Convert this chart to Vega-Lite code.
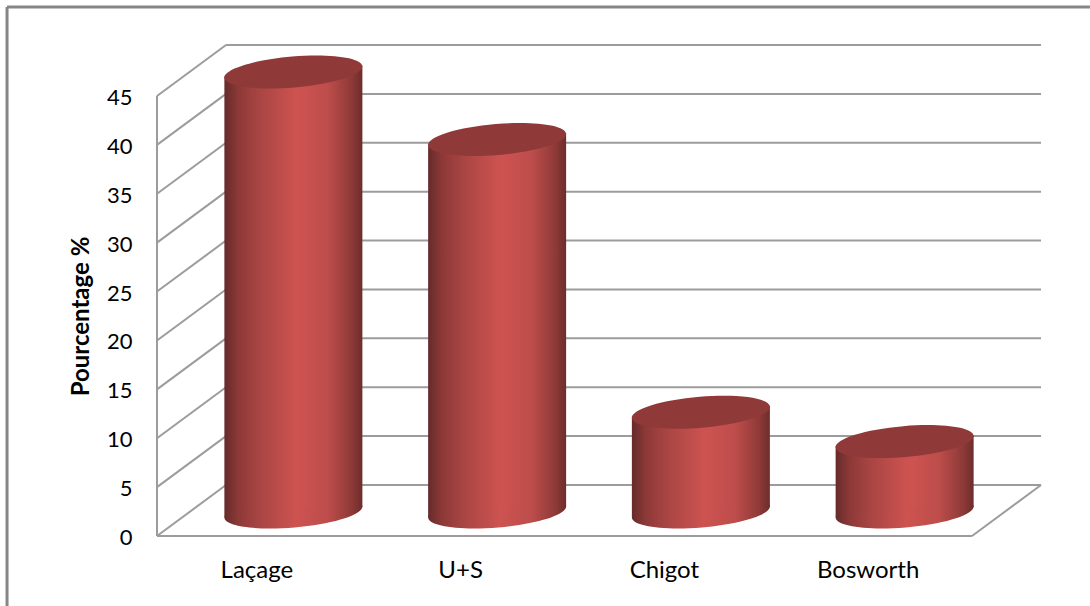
{
  "$schema": "https://vega.github.io/schema/vega-lite/v6.json",
  "width": 1090,
  "height": 606,
  "padding": 0,
  "autosize": {"type": "none"},
  "background": "white",
  "view": {"stroke": null},
  "datasets": {
    "shares": [
      {"methode": "Laçage", "pourcentage": 45.0},
      {"methode": "U+S", "pourcentage": 38.1},
      {"methode": "Chigot", "pourcentage": 10.2},
      {"methode": "Bosworth", "pourcentage": 7.2}
    ],
    "frame": [
      {"x0": -0.736, "x1": -0.736, "y0": 54.1, "y1": -7.16},
      {"x0": -0.736, "x1": 4.579, "y0": 54.1, "y1": 54.1}
    ],
    "walls": [
      {"x0": 0, "x1": 0, "y0": 0, "y1": 45},
      {"x0": 0, "x1": 4, "y0": 0, "y1": 0},
      {"x0": 4, "x1": 4.3387, "y0": 0, "y1": 5.216},
      {"x0": 0, "x1": 0.3387, "y0": 0, "y1": 5.216},
      {"x0": 0, "x1": 0.3387, "y0": 5, "y1": 10.216},
      {"x0": 0, "x1": 0.3387, "y0": 10, "y1": 15.216},
      {"x0": 0, "x1": 0.3387, "y0": 15, "y1": 20.216},
      {"x0": 0, "x1": 0.3387, "y0": 20, "y1": 25.216},
      {"x0": 0, "x1": 0.3387, "y0": 25, "y1": 30.216},
      {"x0": 0, "x1": 0.3387, "y0": 30, "y1": 35.216},
      {"x0": 0, "x1": 0.3387, "y0": 35, "y1": 40.216},
      {"x0": 0, "x1": 0.3387, "y0": 40, "y1": 45.216},
      {"x0": 0, "x1": 0.3387, "y0": 45, "y1": 50.216},
      {"x0": 0.3387, "x1": 4.3387, "y0": 5.216, "y1": 5.216},
      {"x0": 0.3387, "x1": 4.3387, "y0": 10.216, "y1": 10.216},
      {"x0": 0.3387, "x1": 4.3387, "y0": 15.216, "y1": 15.216},
      {"x0": 0.3387, "x1": 4.3387, "y0": 20.216, "y1": 20.216},
      {"x0": 0.3387, "x1": 4.3387, "y0": 25.216, "y1": 25.216},
      {"x0": 0.3387, "x1": 4.3387, "y0": 30.216, "y1": 30.216},
      {"x0": 0.3387, "x1": 4.3387, "y0": 35.216, "y1": 35.216},
      {"x0": 0.3387, "x1": 4.3387, "y0": 40.216, "y1": 40.216},
      {"x0": 0.3387, "x1": 4.3387, "y0": 45.216, "y1": 45.216},
      {"x0": 0.3387, "x1": 4.3387, "y0": 50.216, "y1": 50.216}
    ]
  },
  "resolve": {"scale": {"x": "independent"}, "axis": {"y": "independent"}},
  "layer": [
    {
      "description": "Outer chart border, left and top edges",
      "data": {"name": "frame"},
      "mark": {"type": "rule", "stroke": "#868686", "strokeWidth": 3},
      "encoding": {
        "x": {"field": "x0", "type": "quantitative", "axis": null, "scale": {"domain": [0, 4], "range": [157, 972], "nice": false, "zero": false}},
        "x2": {"field": "x1"},
        "y": {
          "field": "y0", "type": "quantitative",
          "scale": {"domain": [0, 45], "range": [536, 96], "nice": false, "zero": false},
          "axis": {
            "orient": "left", "offset": -157, "values": [0, 5, 10, 15, 20, 25, 30, 35, 40, 45],
            "grid": false, "domain": false, "ticks": false, "labelPadding": 25, "labelOffset": 1.5,
            "labelFont": "Lato", "labelFontSize": 22, "labelColor": "#000000",
            "title": "Pourcentage %", "titleFont": "Lato", "titleFontSize": 24, "titleFontWeight": "bold",
            "titleColor": "#000000", "titleX": -76, "titleY": 316, "titleAngle": -90,
            "titleAlign": "center", "titleBaseline": "middle"
          }
        },
        "y2": {"field": "y1"}
      }
    },
    {
      "description": "Walls and floor of the oblique box: gridlines, depth lines, axis edges",
      "data": {"name": "walls"},
      "mark": {"type": "rule", "stroke": "#9c9c9c", "strokeWidth": 2},
      "encoding": {
        "x": {"field": "x0", "type": "quantitative", "axis": null, "scale": {"domain": [0, 4], "range": [157, 972], "nice": false, "zero": false}},
        "x2": {"field": "x1"},
        "y": {"field": "y0", "type": "quantitative", "axis": null},
        "y2": {"field": "y1"}
      }
    },
    {
      "description": "Cylinder foot, a tilted ellipse",
      "data": {"name": "shares"},
      "mark": {
        "type": "point", "filled": true, "opacity": 1, "size": 19044, "xOffset": 34.5, "yOffset": -24,
        "shape": "M-0.9998,0.084 A1.0033,0.2245,-4.8,0,0,0.9998,-0.084 A1.0033,0.2245,-4.8,0,0,-0.9998,0.084 Z",
        "fill": {
          "x1": 0, "y1": 0, "x2": 1, "y2": 0, "gradient": "linear",
          "stops": [
            {"offset": 0, "color": "#652b2a"},
            {"offset": 0.1, "color": "#8d3937"},
            {"offset": 0.25, "color": "#a84543"},
            {"offset": 0.52, "color": "#cd5350"},
            {"offset": 0.75, "color": "#bd4d4b"},
            {"offset": 0.92, "color": "#8f3a38"},
            {"offset": 1, "color": "#6c2d2b"}
          ]
        }
      },
      "encoding": {
        "x": {
          "field": "methode", "type": "nominal", "sort": null,
          "scale": {"type": "band", "range": [157, 972], "padding": 0},
          "axis": {
            "orient": "bottom", "offset": -70, "title": null, "domain": false, "ticks": false, "grid": false,
            "labelAngle": 0, "labelPadding": 22, "labelOffset": -2, "labelFont": "Lato", "labelFontSize": 24, "labelColor": "#000000"
          }
        },
        "y": {"datum": 0, "type": "quantitative", "axis": null}
      }
    },
    {
      "description": "Cylinder side, right half, slightly higher to follow the tilt",
      "data": {"name": "shares"},
      "mark": {
        "type": "bar", "width": 69, "xOffset": 69, "yOffset": -30.5, "y2Offset": -29,
        "fill": {
          "x1": 0, "y1": 0, "x2": 1, "y2": 0, "gradient": "linear",
          "stops": [
            {"offset": 0, "color": "#cb524f"},
            {"offset": 0.08, "color": "#cd5350"},
            {"offset": 0.5, "color": "#bd4d4b"},
            {"offset": 0.84, "color": "#8f3a38"},
            {"offset": 1, "color": "#6c2d2b"}
          ]
        }
      },
      "encoding": {
        "x": {"field": "methode", "type": "nominal", "sort": null, "axis": null, "scale": {"type": "band", "range": [157, 972], "padding": 0}},
        "y": {"field": "pourcentage", "type": "quantitative", "axis": null},
        "y2": {"datum": 0}
      }
    },
    {
      "description": "Cylinder side, left half, slightly lower to follow the tilt; one pixel wider so no seam shows",
      "data": {"name": "shares"},
      "mark": {
        "type": "bar", "width": 70, "xOffset": 0.5, "yOffset": -19.5, "y2Offset": -19,
        "fill": {
          "x1": 0, "y1": 0, "x2": 1, "y2": 0, "gradient": "linear",
          "stops": [
            {"offset": 0, "color": "#652b2a"},
            {"offset": 0.2, "color": "#8d3937"},
            {"offset": 0.5, "color": "#a84543"},
            {"offset": 1, "color": "#cb524f"}
          ]
        }
      },
      "encoding": {
        "x": {"field": "methode", "type": "nominal", "sort": null, "axis": null, "scale": {"type": "band", "range": [157, 972], "padding": 0}},
        "y": {"field": "pourcentage", "type": "quantitative", "axis": null},
        "y2": {"datum": 0}
      }
    },
    {
      "description": "Cylinder top, a tilted ellipse at the value",
      "data": {"name": "shares"},
      "mark": {
        "type": "point", "filled": true, "opacity": 1, "size": 19044, "xOffset": 34.5, "yOffset": -24,
        "shape": "M-0.9998,0.084 A1.0033,0.2245,-4.8,0,0,0.9998,-0.084 A1.0033,0.2245,-4.8,0,0,-0.9998,0.084 Z",
        "fill": "#8f3a39"
      },
      "encoding": {
        "x": {"field": "methode", "type": "nominal", "sort": null, "axis": null, "scale": {"type": "band", "range": [157, 972], "padding": 0}},
        "y": {"field": "pourcentage", "type": "quantitative", "axis": null}
      }
    }
  ]
}
